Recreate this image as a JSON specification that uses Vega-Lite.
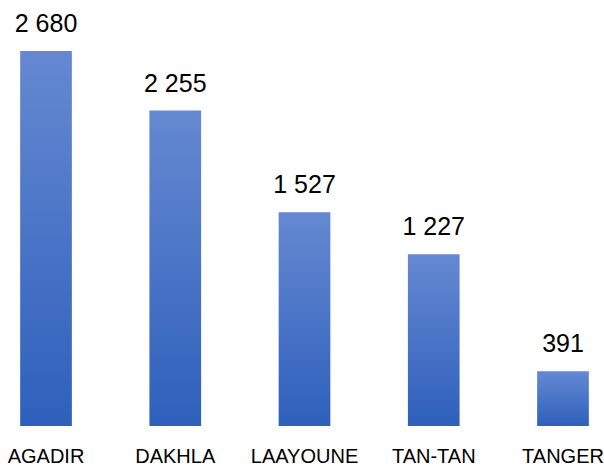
{
  "$schema": "https://vega.github.io/schema/vega-lite/v6.json",
  "width": 609,
  "height": 426,
  "autosize": {"type": "none"},
  "padding": {"left": 0, "top": 0, "right": 0, "bottom": 40},
  "background": "white",
  "config": {"view": {"stroke": null}},
  "data": {"values": [
    {"ville": "AGADIR", "valeur": 2680, "label": "2 680"},
    {"ville": "DAKHLA", "valeur": 2255, "label": "2 255"},
    {"ville": "LAAYOUNE", "valeur": 1527, "label": "1 527"},
    {"ville": "TAN-TAN", "valeur": 1227, "label": "1 227"},
    {"ville": "TANGER", "valeur": 391, "label": "391"}
  ]},
  "encoding": {
    "x": {
      "field": "ville", "type": "nominal", "sort": null,
      "scale": {"paddingInner": 0.6, "paddingOuter": 0.156},
      "axis": {
        "title": null, "ticks": false, "domain": false, "labelAngle": 0,
        "labelFont": "Liberation Sans Narrow, Liberation Sans", "labelFontSize": 20,
        "labelColor": "black", "labelBaseline": "alphabetic", "labelPadding": 36
      }
    },
    "y": {
      "field": "valeur", "type": "quantitative",
      "scale": {"domain": [0, 3045], "nice": false},
      "axis": null
    }
  },
  "layer": [
    {
      "mark": {
        "type": "bar",
        "color": {
          "gradient": "linear", "x1": 0, "y1": 0, "x2": 0, "y2": 1,
          "stops": [
            {"offset": 0, "color": "#6589d1"},
            {"offset": 1, "color": "#2e60bc"}
          ]
        }
      }
    },
    {
      "mark": {
        "type": "text", "baseline": "alphabetic", "dy": -19,
        "font": "Liberation Sans", "fontSize": 25, "color": "black"
      },
      "encoding": {"text": {"field": "label"}}
    }
  ]
}
